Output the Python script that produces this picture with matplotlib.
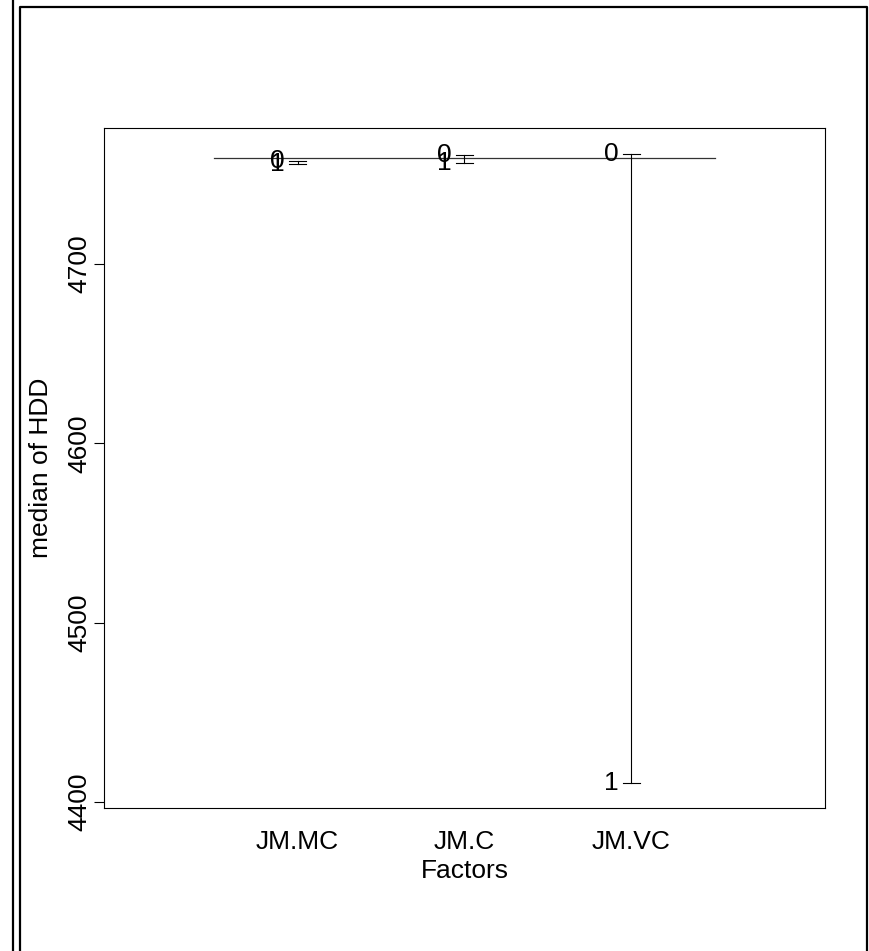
import numpy as np
import matplotlib
matplotlib.use('Agg')
import matplotlib.pyplot as plt
from matplotlib.lines import Line2D

plt.rcParams['font.family'] = ['Liberation Sans', 'DejaVu Sans']

# factor names, level labels and median of HDD for each level
factors = ['JM.MC', 'JM.C', 'JM.VC']
levels = ['0', '1']
med_level0 = [4757.6, 4760.8, 4761.3]
med_level1 = [4755.8, 4756.2, 4410.5]
grand_median = 4759.0

yticks = [4400, 4500, 4600, 4700]

FS = 19
fig = plt.figure(figsize=(8.69, 9.51), dpi=100)
ax = fig.add_axes([104/869, 1 - 808/951, 721/869, 680/951])

xs = np.arange(1, len(factors) + 1)
ax.plot([0.5, len(factors) + 0.5], [grand_median, grand_median], color='#333333', lw=0.9)

for x, v0, v1 in zip(xs, med_level0, med_level1):
    lo, hi = min(v0, v1), max(v0, v1)
    ax.plot([x, x], [lo, hi], color='black', lw=0.8)
    for v in (v0, v1):
        ax.plot([x - 0.05, x + 0.05], [v, v], color='black', lw=0.8)
    for lab, v in zip(levels, (v0, v1)):
        ax.text(x - 0.12, v, lab, ha='center', va='center', fontsize=FS)

ax.set_xlim(-0.16, len(factors) + 1.16)
ax.set_ylim(4396.7, 4775.8)
ax.set_xticks(xs)
ax.set_xticklabels(factors, fontsize=FS)
ax.tick_params(axis='x', length=0, pad=16)
ax.set_yticks(yticks)
ax.set_yticklabels([str(t) for t in yticks], fontsize=FS, rotation=90, va='center')
ax.tick_params(axis='y', length=7, width=0.8, pad=2)
ax.set_xlabel('Factors', fontsize=FS, va='center')
ax.xaxis.set_label_coords(0.5, (808 - 871) / 680)
ax.set_ylabel('median of HDD', fontsize=FS, va='center')
ax.yaxis.set_label_coords((41 - 104) / 721, 0.5)
for s in ax.spines.values():
    s.set_linewidth(0.8)

# outer frame lines
W, H = 869, 951
fig.add_artist(Line2D([13/W, 13/W], [0, 1], color='black', lw=1.6, transform=fig.transFigure))
fig.add_artist(Line2D([20/W, 20/W, 867/W, 867/W], [0, 1 - 7/H, 1 - 7/H, 0],
                      color='black', lw=1.6, transform=fig.transFigure))

plt.savefig('out.png', dpi=100, facecolor='white')
